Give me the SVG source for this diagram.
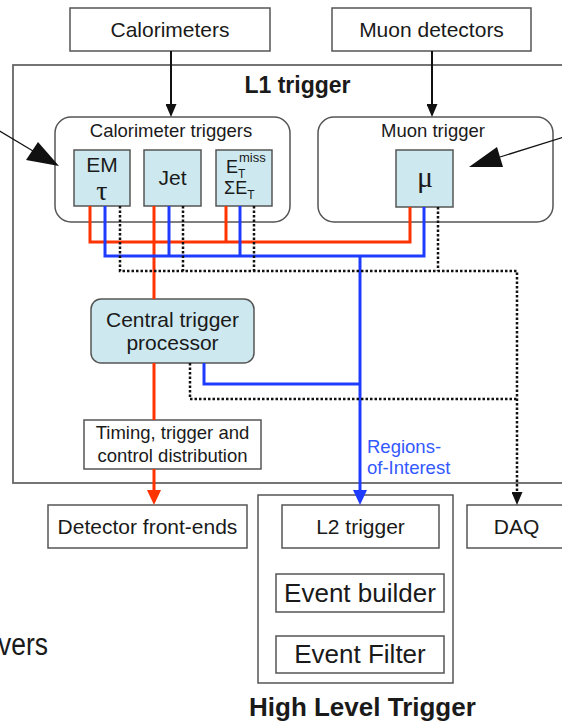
<svg xmlns="http://www.w3.org/2000/svg" width="562" height="721" viewBox="0 0 562 721">
  <defs>
    <style>
      text { font-family: "Liberation Sans", Arial, sans-serif; fill: #1a1a1a; }
      .box { fill: #ffffff; stroke: #555555; stroke-width: 1.5; }
      .frame { fill: none; stroke: #666666; stroke-width: 1.8; }
      .group { fill: #ffffff; stroke: #555555; stroke-width: 1.5; }
      .proc { fill: #cde9ef; stroke: #555555; stroke-width: 1.5; }
      .t21 { font-size: 21px; text-anchor: middle; }
      .t18 { font-size: 18.5px; text-anchor: middle; }
      .t26 { font-size: 26px; text-anchor: middle; }
      .greek { font-family: "Liberation Serif", "Times New Roman", serif; text-anchor: middle; }
      .red { fill: none; stroke: #ff3300; stroke-width: 3; }
      .blue { fill: none; stroke: #1e3cff; stroke-width: 3; }
      .dot { fill: none; stroke: #111111; stroke-width: 2.5; stroke-dasharray: 2.5 2; }
      .feed { fill: none; stroke: #111111; stroke-width: 2; }
      .thin { fill: none; stroke: #111111; stroke-width: 1.2; }
    </style>
    <marker id="headBlack" markerUnits="userSpaceOnUse" markerWidth="13" markerHeight="11" refX="9" refY="5.5" orient="auto">
      <path d="M0,0 L13,5.5 L0,11 z" fill="#111111"/>
    </marker>
    <marker id="headRed" markerUnits="userSpaceOnUse" markerWidth="15" markerHeight="14" refX="10" refY="7" orient="auto">
      <path d="M0,0 L15,7 L0,14 z" fill="#ff3300"/>
    </marker>
    <marker id="headBlue" markerUnits="userSpaceOnUse" markerWidth="15" markerHeight="14" refX="10" refY="7" orient="auto">
      <path d="M0,0 L15,7 L0,14 z" fill="#1e3cff"/>
    </marker>
  </defs>

  <rect width="562" height="721" fill="#ffffff"/>

  <!-- Level-1 frame -->
  <g id="l1-trigger">
    <rect class="frame" x="13" y="65" width="560" height="418"/>
    <text x="297.5" y="93" font-size="23" font-weight="bold" text-anchor="middle">L1 trigger</text>
  </g>

  <g id="calorimeters">
    <rect class="box" x="70" y="8" width="200" height="43"/>
    <text class="t21" x="170" y="37">Calorimeters</text>
  </g>

  <g id="muon-detectors">
    <rect class="box" x="332" y="8" width="199" height="43"/>
    <text class="t21" x="431.5" y="37">Muon detectors</text>
  </g>

  <g id="calorimeter-triggers">
    <rect class="group" x="55" y="117" width="235" height="105" rx="16"/>
    <text class="t18" x="171" y="137">Calorimeter triggers</text>
  </g>

  <g id="muon-trigger">
    <rect class="group" x="318" y="117" width="235" height="105" rx="16"/>
    <text class="t18" x="433" y="137">Muon trigger</text>
  </g>

  <g id="em-tau">
    <rect class="proc" x="74" y="150" width="56" height="56"/>
    <text class="t21" x="102" y="172">EM</text>
    <text class="greek" x="102" y="200" font-size="28">τ</text>
  </g>

  <g id="jet">
    <rect class="proc" x="144" y="150" width="57" height="56"/>
    <text class="t21" x="172.5" y="185">Jet</text>
  </g>

  <g id="et-sums">
    <rect class="proc" x="216" y="150" width="56" height="56"/>
    <text x="226" y="173" font-size="18">E</text>
    <text x="239" y="162" font-size="13">miss</text>
    <text x="238" y="178" font-size="12">T</text>
    <text x="224" y="194" font-size="18">ΣE<tspan font-size="12" dy="5">T</tspan></text>
  </g>

  <g id="mu">
    <rect class="proc" x="396" y="150" width="57" height="57"/>
    <text class="greek" x="425" y="187" font-size="30">μ</text>
  </g>

  <g id="central-trigger-processor">
    <rect class="proc" x="91" y="299" width="163" height="64" rx="10"/>
    <text class="t21" x="172.5" y="327">Central trigger</text>
    <text class="t21" x="172.5" y="350">processor</text>
  </g>

  <g id="ttc">
    <rect class="box" x="84" y="420" width="177" height="49"/>
    <text class="t18" x="172.5" y="439">Timing, trigger and</text>
    <text class="t18" x="172.5" y="462">control distribution</text>
  </g>

  <g id="detector-front-ends">
    <rect class="box" x="48" y="505" width="199" height="43"/>
    <text class="t21" x="147.5" y="534">Detector front-ends</text>
  </g>

  <g id="high-level-trigger">
    <rect class="box" x="258" y="495" width="195" height="188"/>
    <text x="249" y="716" font-size="26" font-weight="bold">High Level Trigger</text>
  </g>

  <g id="l2-trigger">
    <rect class="box" x="282" y="505" width="157" height="43"/>
    <text class="t21" x="360.5" y="534">L2 trigger</text>
  </g>

  <g id="event-builder">
    <rect class="box" x="276" y="574" width="168" height="38"/>
    <text class="t26" x="360" y="602">Event builder</text>
  </g>

  <g id="event-filter">
    <rect class="box" x="276" y="636" width="168" height="37"/>
    <text class="t26" x="360" y="663">Event Filter</text>
  </g>

  <g id="daq">
    <rect class="box" x="467" y="505" width="100" height="43"/>
    <text class="t21" x="516.5" y="534">DAQ</text>
  </g>

  <text x="-2" y="655" font-size="31" textLength="50" lengthAdjust="spacingAndGlyphs">vers</text>

  <!-- Connectors -->
  <g id="connectors">
    <!-- detector feeds -->
    <path class="feed" d="M171,51 V113" marker-end="url(#headBlack)"/>
    <path class="feed" d="M432,51 V113" marker-end="url(#headBlack)"/>

    <!-- pointers from the sides -->
    <path class="thin" d="M-2,130 L33,151"/>
    <polygon points="26,160 38,142 59,166" fill="#111111"/>
    <path class="thin" d="M564,137 L500,157"/>
    <polygon points="469,167 497,147 503,167" fill="#111111"/>

    <!-- trigger decision (red) -->
    <path class="red" d="M90,206 V242 H410 V207"/>
    <path class="red" d="M154,206 V299"/>
    <path class="red" d="M226,206 V242"/>
    <path class="red" d="M154,363 V420"/>
    <path class="red" d="M154,469 V500" marker-end="url(#headRed)"/>

    <!-- regions of interest (blue) -->
    <path class="blue" d="M105,206 V256 H424 V207"/>
    <path class="blue" d="M169,206 V256"/>
    <path class="blue" d="M240,206 V256"/>
    <path class="blue" d="M204,363 V384 H360"/>
    <path class="blue" d="M360,256 V500" marker-end="url(#headBlue)"/>
    <text x="367" y="453" font-size="18.5" style="fill:#3358ff">Regions-</text>
    <text x="367" y="474" font-size="18.5" style="fill:#3358ff">of-Interest</text>

    <!-- readout (dotted) -->
    <path class="dot" d="M120,206 V271 H517 V501" marker-end="url(#headBlack)"/>
    <path class="dot" d="M183,206 V271"/>
    <path class="dot" d="M254,206 V271"/>
    <path class="dot" d="M438,207 V271"/>
    <path class="dot" d="M190,363 V399 H517"/>
  </g>
</svg>
